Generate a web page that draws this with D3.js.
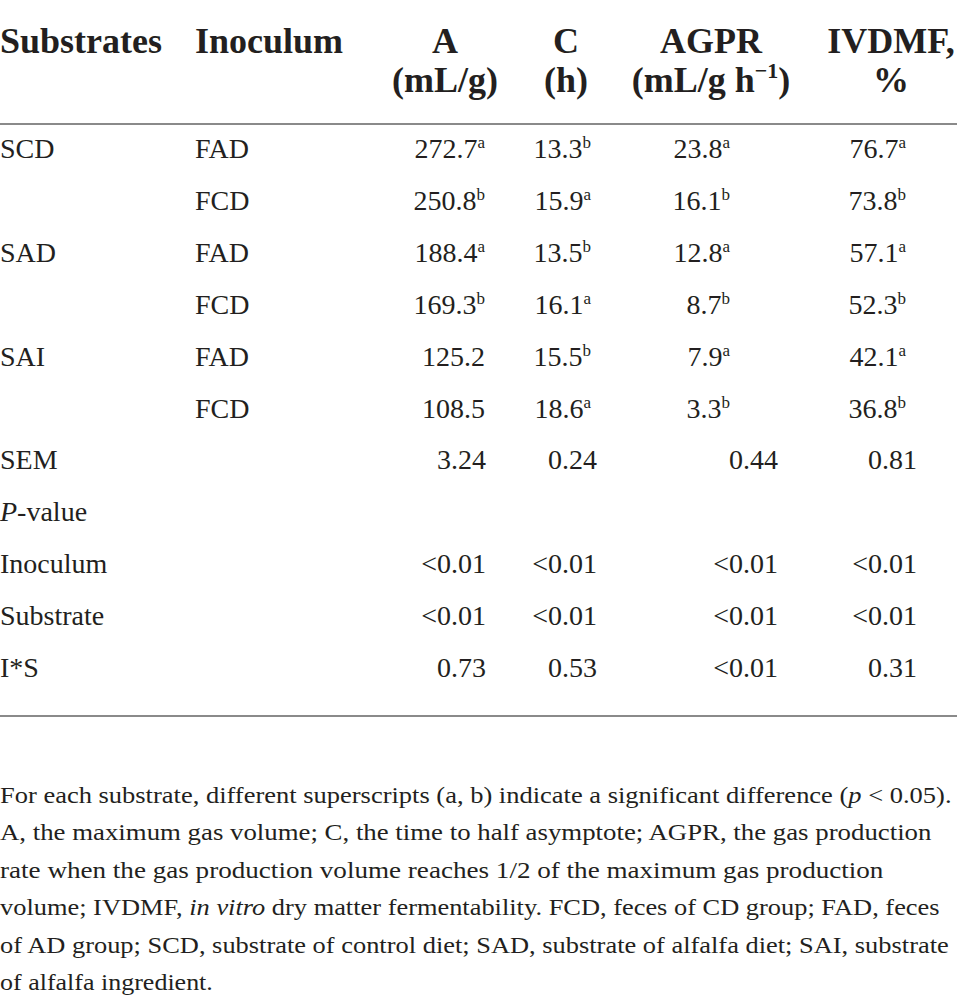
<!DOCTYPE html>
<html>
<head>
<meta charset="utf-8">
<script src="https://cdn.jsdelivr.net/npm/d3@7"></script>
<style>
  html, body { margin: 0; padding: 0; background: #fff; }
  svg { display: block; }
  text { font-family: "Liberation Serif", "DejaVu Serif", serif; fill: #231f20; }
</style>
</head>
<body>
<div id="chart"></div>
<script>
// ---------------- data ----------------
const substrates = ["SCD", "", "SAD", "", "SAI", ""];
const inocula    = ["FAD", "FCD", "FAD", "FCD", "FAD", "FCD"];
const valA      = ["272.7", "250.8", "188.4", "169.3", "125.2", "108.5"];
const supA      = ["a", "b", "a", "b", "", ""];
const valC      = ["13.3", "15.9", "13.5", "16.1", "15.5", "18.6"];
const supC      = ["b", "a", "b", "a", "b", "a"];
const valAGPR   = ["23.8", "16.1", "12.8", "8.7", "7.9", "3.3"];
const supAGPR   = ["a", "b", "a", "b", "a", "b"];
const valIVDMF  = ["76.7", "73.8", "57.1", "52.3", "42.1", "36.8"];
const supIVDMF  = ["a", "b", "a", "b", "a", "b"];
const statLabels = ["SEM", "P-value", "Inoculum", "Substrate", "I*S"];
const semRow        = ["3.24", "0.24", "0.44", "0.81"];
const pvalueRow     = ["", "", "", ""];
const pInoculumRow  = ["<0.01", "<0.01", "<0.01", "<0.01"];
const pSubstrateRow = ["<0.01", "<0.01", "<0.01", "<0.01"];
const pInteractRow  = ["0.73", "0.53", "<0.01", "0.31"];
const columnKeys = ["A", "C", "AGPR", "IVDMF"];
const headerLine1 = ["A", "C", "AGPR", "IVDMF,"];
const headerLine2 = ["(mL/g)", "(h)", "(mL/g h|−1|)", "%"];
const footnoteLines = [
  "For each substrate, different superscripts (a, b) indicate a significant difference (_p_ < 0.05).",
  "A, the maximum gas volume; C, the time to half asymptote; AGPR, the gas production",
  "rate when the gas production volume reaches 1/2 of the maximum gas production",
  "volume; IVDMF, _in vitro_ dry matter fermentability. FCD, feces of CD group; FAD, feces",
  "of AD group; SCD, substrate of control diet; SAD, substrate of alfalfa diet; SAI, substrate",
  "of alfalfa ingredient."
];

// ---------------- layout ----------------
const W = 957, H = 1005;
const svg = d3.select("#chart").append("svg").attr("width", W).attr("height", H);

const nRows = 11;
const y = d3.scalePoint().domain(d3.range(nRows)).range([158, 677]);
const headerCenter = d3.scaleOrdinal().domain(columnKeys).range([445, 566, 711, 891]);
const valueRight = d3.scaleOrdinal().domain(columnKeys).range([485, 591, 730, 906]);
const statRight  = d3.scaleOrdinal().domain(columnKeys).range([486, 597, 778, 917]);
const xSub = 0, xInoc = 195;
const footY = d3.scalePoint().domain(d3.range(footnoteLines.length)).range([803, 990]);
const footRight = [952, 932, 884, 940, 949, 213];

const BODY = 28, HEAD = 36, SUP = 17, FOOT = 23;

// header
const hdr = svg.append("g").attr("class", "header");
hdr.append("text").attr("x", xSub).attr("y", 53).attr("font-size", HEAD).attr("font-weight", "bold").text("Substrates");
hdr.append("text").attr("x", xInoc).attr("y", 53).attr("font-size", HEAD).attr("font-weight", "bold").text("Inoculum");
columnKeys.forEach((k, i) => {
  hdr.append("text").attr("x", headerCenter(k)).attr("y", 53).attr("text-anchor", "middle")
    .attr("font-size", HEAD).attr("font-weight", "bold").text(headerLine1[i]);
  const t = hdr.append("text").attr("x", headerCenter(k)).attr("y", 92).attr("text-anchor", "middle")
    .attr("font-size", HEAD).attr("font-weight", "bold");
  const parts = headerLine2[i].split("|");
  t.append("tspan").text(parts[0]);
  if (parts.length > 1) {
    t.append("tspan").attr("font-size", 22).attr("dy", -14).text(parts[1]);
    t.append("tspan").attr("dy", 14).text(parts[2]);
  }
});

// rules
svg.append("line").attr("x1", 0).attr("x2", W).attr("y1", 124).attr("y2", 124)
  .attr("stroke", "#8a8a8a").attr("stroke-width", 2);
svg.append("line").attr("x1", 0).attr("x2", W).attr("y1", 716).attr("y2", 716)
  .attr("stroke", "#8a8a8a").attr("stroke-width", 2);

// body rows
const body = svg.append("g").attr("class", "body");
const valueCols = [[valA, supA], [valC, supC], [valAGPR, supAGPR], [valIVDMF, supIVDMF]];
substrates.forEach((s, r) => {
  body.append("text").attr("x", xSub).attr("y", y(r)).attr("font-size", BODY).text(s);
  body.append("text").attr("x", xInoc).attr("y", y(r)).attr("font-size", BODY).text(inocula[r]);
  valueCols.forEach(([vals, sups], c) => {
    const t = body.append("text").attr("x", valueRight(columnKeys[c])).attr("y", y(r))
      .attr("text-anchor", "end").attr("font-size", BODY);
    t.append("tspan").text(vals[r]);
    if (sups[r]) t.append("tspan").attr("font-size", SUP).attr("dy", -10).text(sups[r]);
  });
});

// stats rows
const statRows = [semRow, pvalueRow, pInoculumRow, pSubstrateRow, pInteractRow];
statLabels.forEach((lab, i) => {
  const r = 6 + i;
  const t = body.append("text").attr("x", xSub).attr("y", y(r)).attr("font-size", BODY);
  if (lab === "P-value") {
    t.append("tspan").attr("font-style", "italic").text("P");
    t.append("tspan").text("-value");
  } else t.text(lab);
  statRows[i].forEach((v, c) => {
    body.append("text").attr("x", statRight(columnKeys[c])).attr("y", y(r))
      .attr("text-anchor", "end").attr("font-size", BODY).text(v);
  });
});

// footnote
const foot = svg.append("g").attr("class", "footnote");
footnoteLines.forEach((line, i) => {
  const t = foot.append("text").attr("x", 0).attr("y", 0).attr("font-size", FOOT);
  line.split("_").forEach((seg, j) => {
    if (!seg) return;
    const ts = t.append("tspan").text(seg);
    if (j % 2 === 1) ts.attr("font-style", "italic");
  });
  const w = t.node().getComputedTextLength();
  const sx = footRight[i] / w;
  t.attr("transform", `translate(0,${footY(i)}) scale(${sx},1)`);
});
</script>
</body>
</html>
